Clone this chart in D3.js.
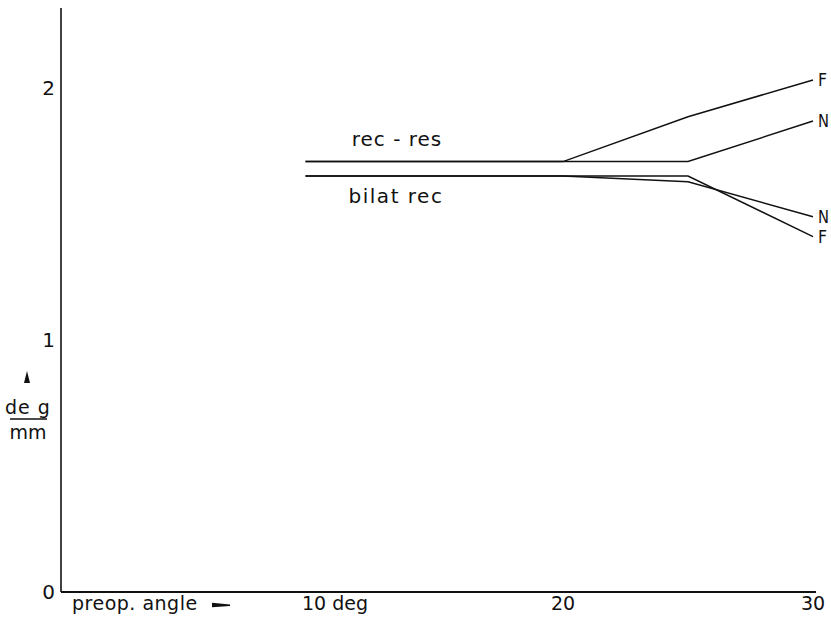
<!DOCTYPE html>
<html><head><meta charset="utf-8">
<script src="https://cdn.jsdelivr.net/npm/d3@7"></script>
<style>
body{margin:0;background:#fff;}
text{font-family:"DejaVu Sans",sans-serif;fill:#111;}
</style></head>
<body>
<svg id="c" width="831" height="626"></svg>
<script>
// data
const xTicks = [10, 20, 30];
const xTickLabels = ["10 deg", "20", "30"];
const yTicks = [0, 1, 2];
const recResF = [[9.7,1.706],[20,1.706],[25,1.884],[30,2.03]];
const recResN = [[9.7,1.706],[25,1.706],[30,1.867]];
const bilatN  = [[9.7,1.649],[20,1.649],[25,1.626],[30,1.487]];
const bilatF  = [[9.7,1.649],[25,1.649],[30,1.408]];
const series = [
  {name:"F", pts:recResF},
  {name:"N", pts:recResN},
  {name:"N", pts:bilatN},
  {name:"F", pts:bilatF}
];

const svg = d3.select("#c");
const x = d3.scaleLinear().domain([0,30]).range([63,813]);
const y = d3.scaleLinear().domain([0,2]).range([591.5,87.5]);

// axes lines
svg.append("line").attr("x1",61).attr("x2",61).attr("y1",y(2.315)).attr("y2",592)
  .attr("stroke","#111").attr("stroke-width",1.6);
svg.append("line").attr("x1",61).attr("x2",816).attr("y1",592).attr("y2",592)
  .attr("stroke","#111").attr("stroke-width",1.8);

// y tick labels
svg.selectAll("text.yt").data(yTicks).enter().append("text")
  .attr("class","yt").attr("x",48.5).attr("y",d=>y(d)+7)
  .attr("text-anchor","middle").attr("font-size",20).text(d=>d);

// x tick labels
svg.selectAll("text.xt").data(xTicks).enter().append("text")
  .attr("class","xt")
  .attr("x",(d,i)=> i===0 ? x(d)-11 : x(d))
  .attr("y",610)
  .attr("text-anchor",(d,i)=> i===0 ? "start" : "middle")
  .attr("font-size",19).text((d,i)=>xTickLabels[i]);

svg.append("text").attr("x",72).attr("y",610).attr("font-size",19)
  .attr("letter-spacing",0.5).text("preop. angle");
svg.append("path").attr("d","M212,602.8 L230,604.5 L230,606 L212,607.2 Z").attr("fill","#111");

// y label
svg.append("path").attr("d","M27,371 L30,383 L24,383 Z").attr("fill","#111");
svg.append("text").attr("x",28).attr("y",414).attr("text-anchor","middle")
  .attr("font-size",19).attr("letter-spacing",1).text("de g");
svg.append("line").attr("x1",10).attr("x2",47).attr("y1",419).attr("y2",419)
  .attr("stroke","#111").attr("stroke-width",1.5);
svg.append("text").attr("x",28).attr("y",439).attr("text-anchor","middle")
  .attr("font-size",19).text("mm");

// lines
const line = d3.line().x(d=>x(d[0])).y(d=>y(d[1]));
svg.selectAll("path.s").data(series).enter().append("path")
  .attr("class","s").attr("d",d=>line(d.pts))
  .attr("fill","none").attr("stroke","#111").attr("stroke-width",1.5);

// end labels
svg.selectAll("text.el").data(series).enter().append("text")
  .attr("class","el")
  .attr("x",d=>x(d.pts[d.pts.length-1][0])+5)
  .attr("y",d=>y(d.pts[d.pts.length-1][1])+6)
  .attr("font-size",18)
  .attr("textLength",d=>d.name==="N"?11:9)
  .attr("lengthAdjust","spacingAndGlyphs")
  .text(d=>d.name);

// group labels
svg.append("text").attr("x",397).attr("y",146).attr("text-anchor","middle")
  .attr("font-size",20).attr("letter-spacing",1).text("rec - res");
svg.append("text").attr("x",396).attr("y",203).attr("text-anchor","middle")
  .attr("font-size",20).attr("letter-spacing",1.5).text("bilat rec");
</script>
</body></html>
